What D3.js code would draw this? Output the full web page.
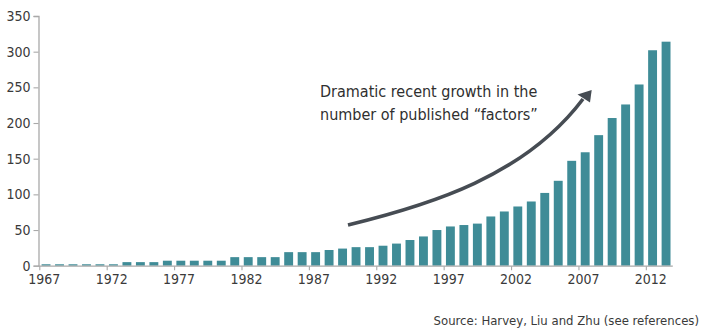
<!DOCTYPE html>
<html>
<head>
<meta charset="utf-8">
<script src="https://cdn.jsdelivr.net/npm/d3@7"></script>
<style>
  html, body { margin: 0; padding: 0; background: #fff; }
  svg { display: block; }
  .lbl { font-family: "Liberation Sans Narrow", "DejaVu Sans Condensed", "Roboto", sans-serif; }
</style>
</head>
<body>
<svg id="chart" width="701" height="333"></svg>
<script>
// Cumulative number of published factors per year
const years = d3.range(1967, 2014);
const factorCounts = [
  2, 2, 2, 2, 2, 2, 5, 5, 5, 7,
  7, 7, 7, 7, 12, 12, 12, 12, 19, 19,
  19, 22, 24, 26, 26, 28, 31, 36, 41, 50,
  55, 57, 59, 69, 76, 83, 90, 102, 119, 147,
  159, 183, 207, 226, 254, 302, 314
];
const yTicks = [0, 50, 100, 150, 200, 250, 300, 350];
const xTickYears = [1967, 1972, 1977, 1982, 1987, 1992, 1997, 2002, 2007, 2012];
const noteLines = ["Dramatic recent growth in the", "number of published \u201cfactors\u201d"];
const sourceText = "Source: Harvey, Liu and Zhu (see references)";

const svg = d3.select("#chart");
const plotLeft = 39.3, plotRight = 672.8, plotTop = 16, plotBottom = 265.7;
const pad = 0.34;

const x = d3.scaleBand().domain(years).range([plotLeft, plotRight])
  .paddingInner(pad).paddingOuter(pad / 2);
// year boundaries, used for the tick positions
const xEdge = d3.scaleLinear().domain([1967, 2014]).range([plotLeft, plotRight]);
const y = d3.scaleLinear().domain([0, 350]).range([plotBottom, plotTop]);

const axisColor = "#a9a9a9";
const textColor = "#3a3a3a";

// bars
svg.append("g").selectAll("rect")
  .data(years)
  .join("rect")
  .attr("x", d => x(d))
  .attr("width", x.bandwidth())
  .attr("y", (d, i) => y(factorCounts[i]))
  .attr("height", (d, i) => y(0) - y(factorCounts[i]))
  .attr("fill", "#3f8c97");

// y axis
const gy = svg.append("g").attr("transform", `translate(${plotLeft - 0.8},0)`)
  .call(d3.axisLeft(y).tickValues(yTicks).tickSize(5).tickPadding(3));
gy.select(".domain").attr("stroke", axisColor).attr("stroke-width", 1.3);
gy.selectAll(".tick line").attr("stroke", axisColor).attr("stroke-width", 1.1);
gy.selectAll(".tick text").attr("class", "lbl").attr("fill", textColor)
  .style("font-size", "14px");

// x axis
const gx = svg.append("g").attr("transform", `translate(0,${plotBottom + 0.5})`)
  .call(d3.axisBottom(xEdge).tickValues(xTickYears).tickFormat(d3.format("d"))
    .tickSize(4).tickSizeOuter(0).tickPadding(4));
gx.select(".domain").attr("stroke", axisColor).attr("stroke-width", 1.3)
  .attr("d", `M${plotLeft - 1},0H${plotRight}`);
gx.selectAll(".tick line").attr("stroke", axisColor).attr("stroke-width", 1.1);
gx.selectAll(".tick text").attr("class", "lbl").attr("fill", textColor)
  .attr("dx", 4.5).style("font-size", "14px");

// growth arrow
const arrowColor = "#464c53";
svg.append("path")
  .attr("d", "M348,225 C430,205 525,176 583,99")
  .attr("fill", "none").attr("stroke", arrowColor).attr("stroke-width", 3.6);
svg.append("path")
  .attr("d", "M591.7,90 L577.5,94.5 L590,102.5 Z")
  .attr("fill", arrowColor);

// annotation
svg.append("text").attr("class", "lbl")
  .attr("x", 320).attr("y", 97).attr("fill", "#2f2f2f")
  .style("font-size", "16px")
  .selectAll("tspan").data(noteLines).join("tspan")
  .attr("x", 320).attr("dy", (d, i) => i === 0 ? 0 : 23)
  .text(d => d);

// source note
svg.append("text").attr("class", "lbl")
  .attr("x", 699).attr("y", 325).attr("text-anchor", "end")
  .attr("fill", "#3a3a3a").style("font-size", "13px")
  .text(sourceText);
</script>
</body>
</html>
